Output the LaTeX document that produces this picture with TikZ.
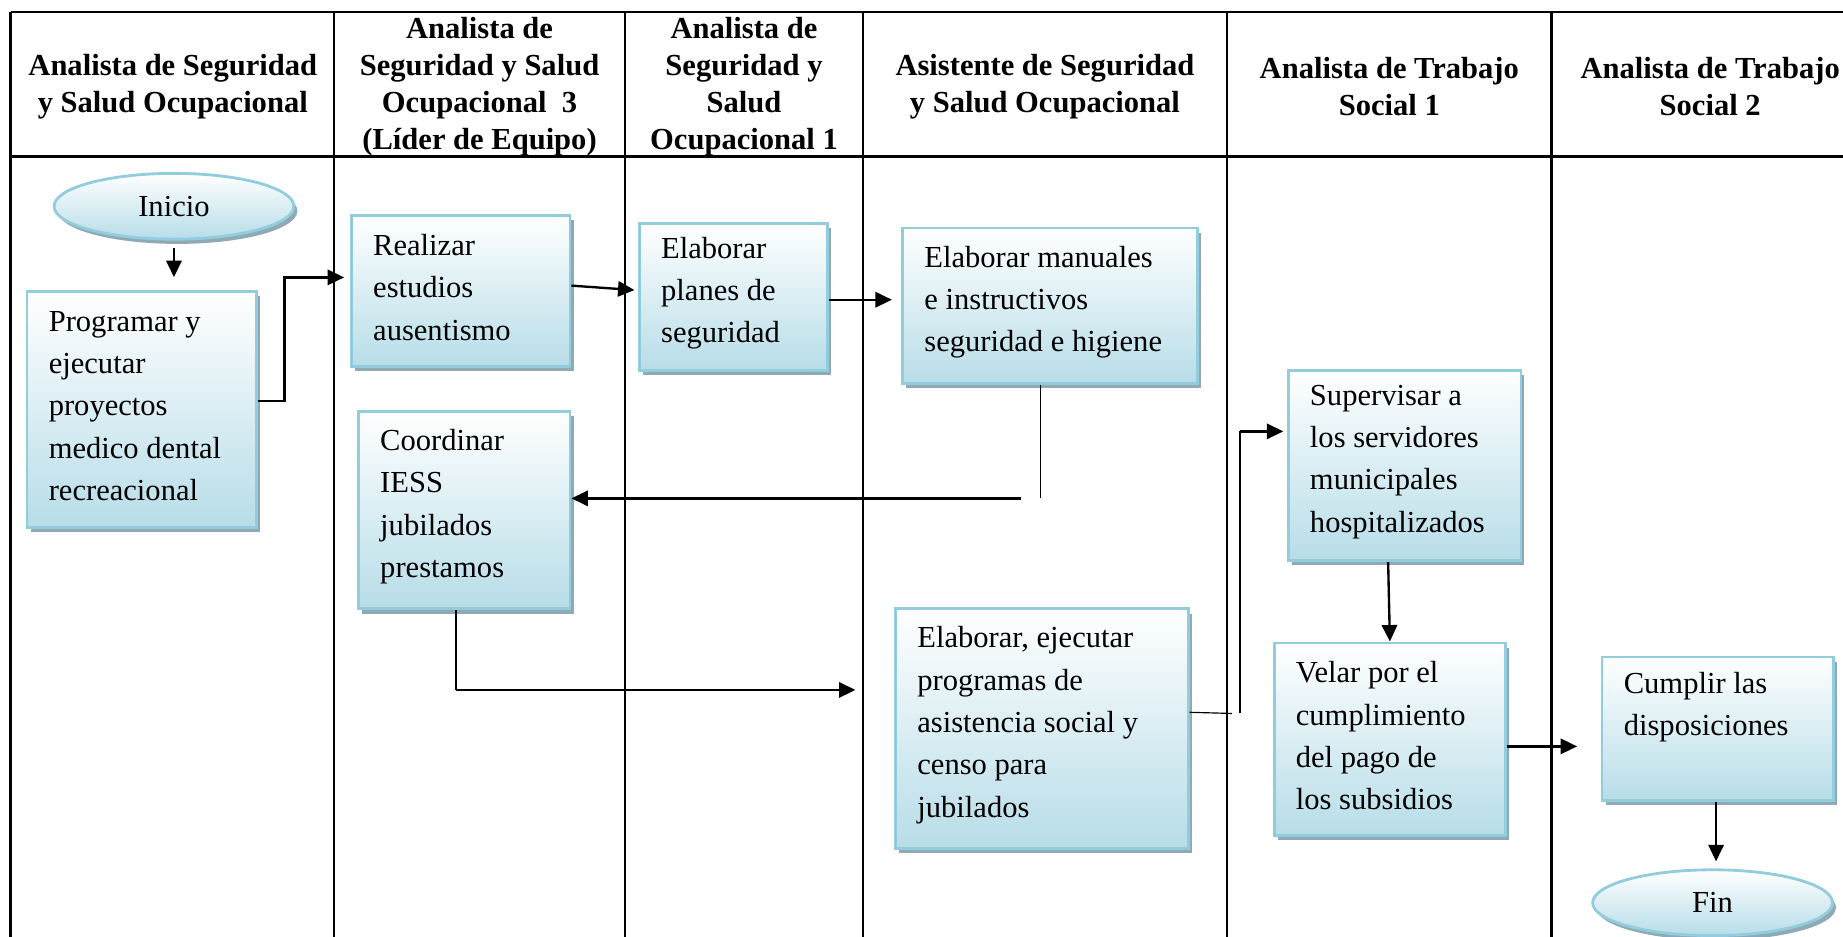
\documentclass[tikz,border=0pt]{standalone}
\usepackage{fontspec}
\setmainfont{Liberation Serif}
\usetikzlibrary{shapes.geometric,shadows,arrows.meta}
\definecolor{boxblue}{RGB}{183,221,232}
\definecolor{boxline}{RGB}{146,205,221}
\definecolor{boxshade}{RGB}{143,170,180}

\begin{document}
\begin{tikzpicture}[x=0.5pt,y=-0.5pt,
  lane/.style={line width=1pt},
  head/.style={font=\bfseries\fontsize{13}{15.7}\selectfont,align=center,inner sep=0},
  task/.style={draw=boxline,line width=1.2pt,top color=white,bottom color=boxblue,
    drop shadow={shadow xshift=1.5pt,shadow yshift=-2pt,fill=boxshade,opacity=1},
    font=\fontsize{13}{18}\selectfont,align=flush left,inner xsep=9.25pt,inner ysep=0pt,
    execute at end node={\endgraf\vspace*{3pt}}},
  term/.style={ellipse,draw=boxline,line width=1.2pt,top color=white,bottom color=boxblue,
    drop shadow={shadow xshift=1.5pt,shadow yshift=-2pt,fill=boxshade,opacity=1},
    font=\fontsize{13}{18}\selectfont,inner sep=0pt,minimum width=102pt,minimum height=28pt},
  flow/.style={line width=1pt,-{Triangle[length=7pt,width=6.5pt]}},
  link/.style={line width=0.5pt}]
\useasboundingbox (0,0) rectangle (1568,797);
\draw[lane] (9,10) -- (1600,10);
\draw[lane] (9,133) -- (1600,133);
\draw[lane] (9,10) -- (9,800);
\draw[lane] (284,10) -- (284,800);
\draw[lane] (532,10) -- (532,800);
\draw[lane] (734,10) -- (734,800);
\draw[lane] (1044,10) -- (1044,800);
\draw[lane] (1320,10) -- (1320,800);
\node[head] (h1) at (147,74) {Analista de Seguridad\\y Salud Ocupacional};
\node[head] (h2) at (408,74) {Analista de\\Seguridad y Salud\\Ocupacional\ \ 3\\(Líder de Equipo)};
\node[head] (h3) at (633,74) {Analista de\\Seguridad y\\Salud\\Ocupacional 1};
\node[head] (h4) at (889,74) {Asistente de Seguridad\\y Salud Ocupacional};
\node[head] (h5) at (1182,74) {Analista de Trabajo\\Social 1};
\node[head] (h6) at (1455,74) {Analista de Trabajo\\Social 2};
\node[term] (inicio) at (148,175.5) {\raisebox{-2pt}{Inicio}};
\node[task,text width=79pt,minimum height=100.5pt] (prog) at (120.5,348.5) {Programar y\\ejecutar\\proyectos\\medico dental\\recreacional};
\node[task,text width=74.5pt,minimum height=64.5pt] (real) at (392,247.5) {Realizar\\estudios\\ausentismo};
\node[task,text width=61.5pt,minimum height=62.5pt] (plan) at (624,252.5) {Elaborar\\planes de\\seguridad};
\node[task,text width=107pt,minimum height=66pt] (manu) at (893.5,260) {Elaborar manuales\\e instructivos\\seguridad e higiene};
\node[task,text width=71.5pt,minimum height=84pt] (coord) at (395,434) {Coordinar\\IESS\\jubilados\\prestamos};
\node[task,text width=106pt,minimum height=102pt] (ejec) at (886.5,620) {Elaborar, ejecutar\\programas de\\asistencia social y\\censo para\\jubilados};
\node[task,text width=80.5pt,minimum height=81pt] (superv) at (1195,396) {Supervisar a\\los servidores\\municipales\\hospitalizados};
\node[task,text width=80pt,minimum height=82pt] (velar) at (1182.5,629) {Velar por el\\cumplimiento\\del pago de\\los subsidios};
\node[task,text width=80pt,minimum height=61pt] (cumpl) at (1461.5,620) {Cumplir las\\disposiciones\\\mbox{}};
\node[term] (fin) at (1457,768) {\raisebox{-1.5pt}{Fin}};
\coordinate (k1) at (242,341);
\coordinate (k2) at (242,236);
\coordinate (k3) at (885,424);
\coordinate (k4) at (869,424);
\coordinate (k5) at (388,587);
\coordinate (k6) at (1048,607);
\coordinate (k7) at (1055,607);
\coordinate (k8) at (1055,367);
\coordinate (k9) at (1181,477);
\draw[flow,shorten <=3pt,shorten >=5.5pt] (inicio.south) -- (inicio.south |- prog.north);
\draw[flow,shorten >=2.5pt] (prog.east |- k1) -- (k1) -- (k2) -- (real.west |- k2);
\draw[flow,shorten >=1.5pt] ([yshift=2.25pt]real.east) -- ([yshift=2.75pt]plan.west);
\draw[flow,shorten >=4pt] ([yshift=-1.25pt]plan.east) -- ([yshift=-1.25pt]plan.east -| manu.west);
\draw[link] (manu.south -| k3) -- (k3);
\draw[flow] (k4) -- (coord.east |- k4);
\draw[link] (coord.south -| k5) -- (k5);
\draw[flow,shorten >=16.5pt] (k5) -- (k5 -| ejec.west);
\draw[link] ([yshift=7pt]ejec.east) -- (k6);
\draw[link] (k7) -- (k8);
\draw[flow,shorten >=1.5pt] (k8) -- (superv.west |- k8);
\draw[flow] (superv.south -| k9) -- (velar.north);
\draw[flow,shorten >=10pt] ([yshift=-3pt]velar.east) -- ([yshift=-3pt]velar.east -| cumpl.west);
\draw[flow,shorten >=3pt] ([xshift=-0.75pt]cumpl.south) -- ([xshift=-0.75pt]cumpl.south |- fin.north);
\end{tikzpicture}
\end{document}
